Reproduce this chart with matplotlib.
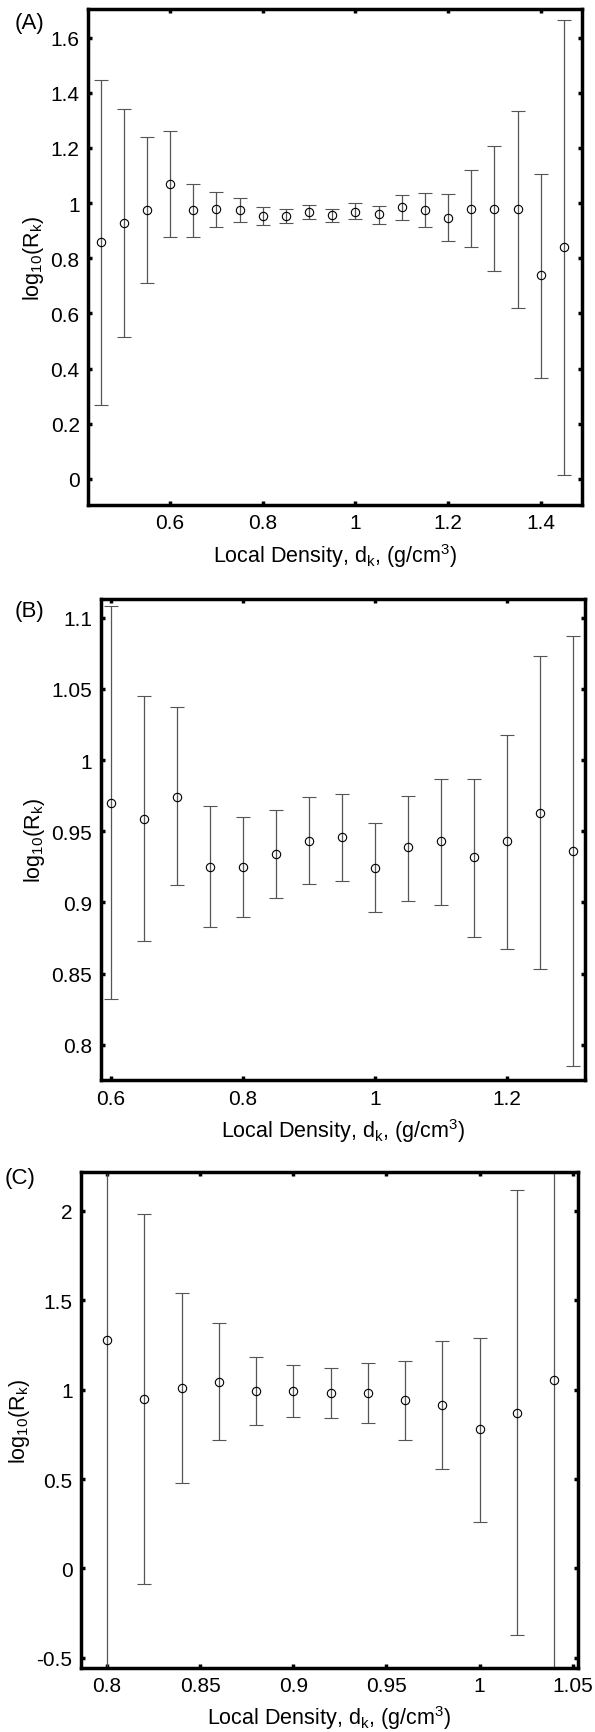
import matplotlib
matplotlib.use("Agg")
import matplotlib.pyplot as plt

plt.rcParams['font.family'] = ['Liberation Sans', 'DejaVu Sans']
plt.rcParams['mathtext.default'] = 'regular'

# panel A
a_x = [0.45, 0.50, 0.55, 0.60, 0.65, 0.70, 0.75, 0.80, 0.85, 0.90, 0.95,
       1.00, 1.05, 1.10, 1.15, 1.20, 1.25, 1.30, 1.35, 1.40, 1.45]
a_mean = [0.857, 0.928, 0.973, 1.069, 0.973, 0.978, 0.976, 0.953, 0.954, 0.969, 0.957,
          0.969, 0.960, 0.984, 0.973, 0.946, 0.979, 0.980, 0.978, 0.738, 0.841]
a_hi = [1.446, 1.340, 1.238, 1.260, 1.069, 1.040, 1.020, 0.985, 0.980, 0.993, 0.980,
        0.999, 0.991, 1.029, 1.035, 1.033, 1.119, 1.205, 1.332, 1.107, 1.665]
a_lo = [0.266, 0.514, 0.709, 0.877, 0.875, 0.912, 0.930, 0.920, 0.926, 0.943, 0.931,
        0.941, 0.925, 0.940, 0.912, 0.863, 0.841, 0.755, 0.620, 0.367, 0.013]

# panel B
b_x = [0.60, 0.65, 0.70, 0.75, 0.80, 0.85, 0.90, 0.95, 1.00, 1.05, 1.10, 1.15, 1.20, 1.25, 1.30]
b_mean = [0.970, 0.959, 0.974, 0.925, 0.925, 0.934, 0.943, 0.946, 0.924, 0.939, 0.943,
          0.932, 0.943, 0.963, 0.936]
b_hi = [1.108, 1.045, 1.037, 0.968, 0.960, 0.965, 0.974, 0.976, 0.956, 0.975, 0.987,
        0.987, 1.018, 1.073, 1.087]
b_lo = [0.832, 0.873, 0.912, 0.883, 0.890, 0.903, 0.913, 0.915, 0.893, 0.901, 0.898,
        0.876, 0.867, 0.853, 0.785]

# panel C
c_x = [0.80, 0.82, 0.84, 0.86, 0.88, 0.90, 0.92, 0.94, 0.96, 0.98, 1.00, 1.02, 1.04]
c_mean = [1.278, 0.948, 1.008, 1.045, 0.993, 0.991, 0.981, 0.980, 0.942, 0.916, 0.780, 0.871, 1.052]
c_hi = [2.600, 1.981, 1.543, 1.375, 1.183, 1.136, 1.123, 1.148, 1.162, 1.272, 1.291, 2.114, 2.600]
c_lo = [-0.700, -0.087, 0.476, 0.717, 0.804, 0.846, 0.840, 0.814, 0.719, 0.556, 0.261, -0.371, -0.700]

panels = [
    ("(A)", a_x, a_mean, a_hi, a_lo, [0.148, 0.708, 0.830, 0.286], (0.423, 1.489), (-0.095, 1.702),
     [0.6, 0.8, 1.0, 1.2, 1.4], ["0.6", "0.8", "1", "1.2", "1.4"],
     [0, 0.2, 0.4, 0.6, 0.8, 1.0, 1.2, 1.4, 1.6], ["0", "0.2", "0.4", "0.6", "0.8", "1", "1.2", "1.4", "1.6"],
     (0.025, 0.9867)),
    ("(B)", b_x, b_mean, b_hi, b_lo, [0.169, 0.376, 0.814, 0.278], (0.584, 1.318), (0.775, 1.1135),
     [0.6, 0.8, 1.0, 1.2], ["0.6", "0.8", "1", "1.2"],
     [0.8, 0.85, 0.9, 0.95, 1.0, 1.05, 1.1], ["0.8", "0.85", "0.9", "0.95", "1", "1.05", "1.1"],
     (0.025, 0.647)),
    ("(C)", c_x, c_mean, c_hi, c_lo, [0.136, 0.037, 0.835, 0.286], (0.786, 1.0527), (-0.556, 2.216),
     [0.8, 0.85, 0.9, 0.95, 1.0, 1.05], ["0.8", "0.85", "0.9", "0.95", "1", "1.05"],
     [-0.5, 0, 0.5, 1, 1.5, 2], ["-0.5", "0", "0.5", "1", "1.5", "2"],
     (0.008, 0.320)),
]

fig = plt.figure(figsize=(5.95, 17.33), dpi=100)

for tag, x, m, hi, lo, pos, xl, yl, xt, xtl, yt, ytl, tpos in panels:
    ax = fig.add_axes(pos)
    err = [[mm - l for mm, l in zip(m, lo)], [h - mm for mm, h in zip(m, hi)]]
    ax.errorbar(x, m, yerr=err, fmt='o', mfc='none', mec='black', ms=6, mew=0.8,
                ecolor='#555555', elinewidth=0.9, capsize=5, capthick=0.9)
    ax.set_xlim(*xl)
    ax.set_ylim(*yl)
    ax.set_xticks(xt)
    ax.set_xticklabels(xtl)
    ax.set_yticks(yt)
    ax.set_yticklabels(ytl)
    ax.tick_params(direction='in', top=True, right=True, length=3, width=2.5,
                   labelsize=15, pad=6)
    for s in ax.spines.values():
        s.set_linewidth(2.5)
    ax.set_xlabel("Local Density, d$_k$, (g/cm$^3$)", fontsize=15.5, labelpad=6)
    ax.set_ylabel("log$_{10}$(R$_k$)", fontsize=15.5, labelpad=3)
    fig.text(tpos[0], tpos[1], tag, fontsize=16, ha='left', va='center')

fig.savefig("out.png", dpi=100)
